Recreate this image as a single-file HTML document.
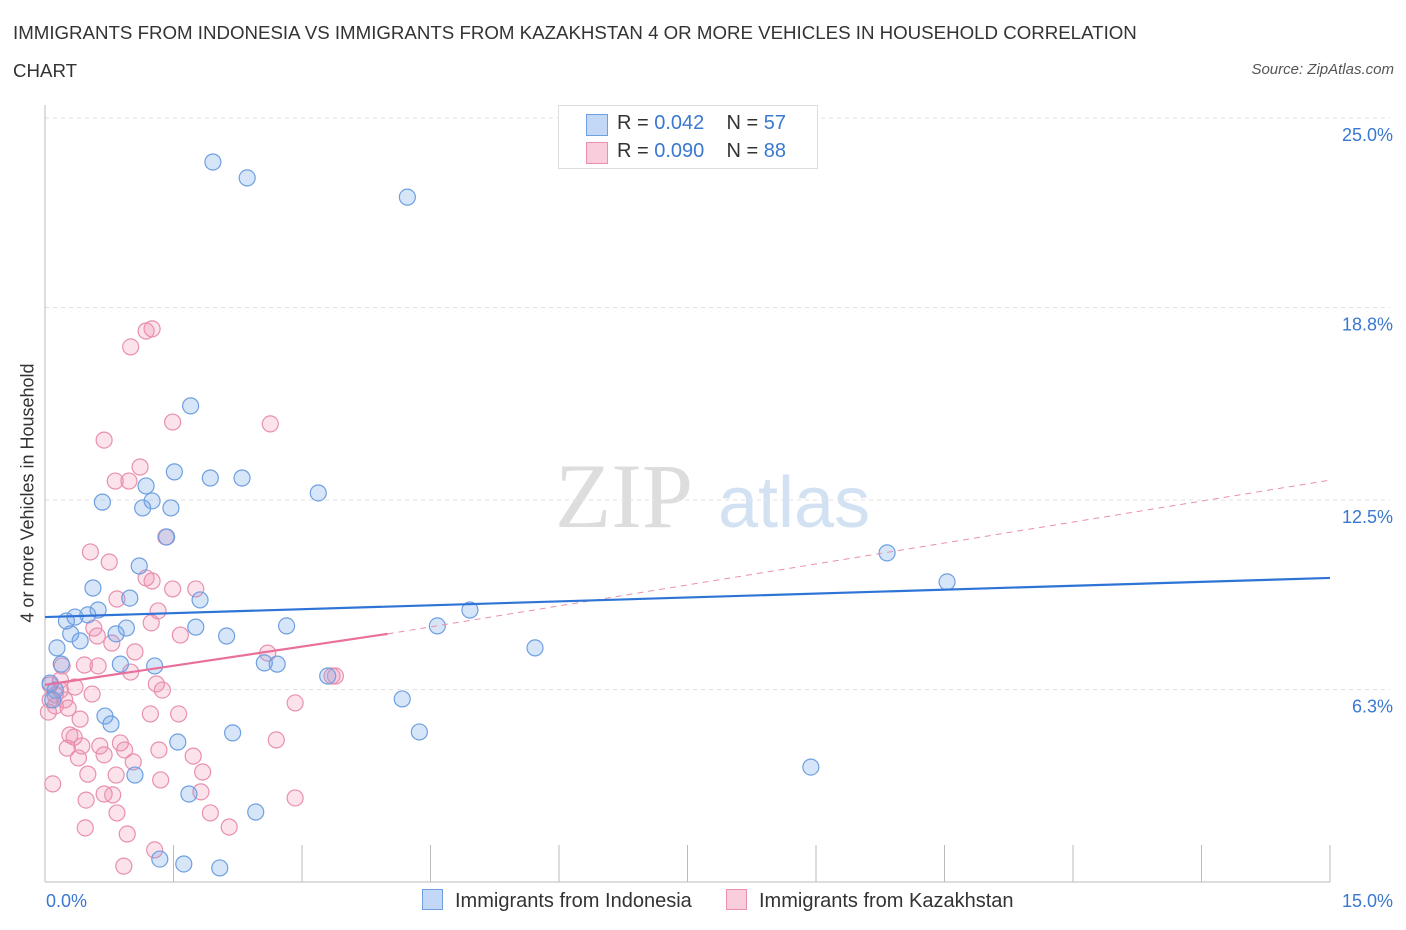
<!DOCTYPE html>
<html><head><meta charset="utf-8"><style>
body{margin:0;background:#fff;font-family:"Liberation Sans",sans-serif;}
#wrap{position:relative;width:1406px;height:930px;overflow:hidden}
.t{position:absolute;white-space:nowrap}
</style></head><body>
<div id="wrap">
<div class="t" style="left:13px;top:14px;font-size:18.7px;color:#333;line-height:38px">IMMIGRANTS FROM INDONESIA VS IMMIGRANTS FROM KAZAKHSTAN 4 OR MORE VEHICLES IN HOUSEHOLD CORRELATION<br>CHART</div>
<div class="t" style="right:12px;top:61px;font-size:15px;color:#555;font-style:italic">Source: ZipAtlas.com</div>
<svg id="svg" width="1406" height="930" style="position:absolute;left:0;top:0"></svg>
</div>
<script>
const xTicks=[1.5,3,4.5,6,7.5,9,10.5,12,13.5,15];
const yTicks=[6.3,12.5,18.8,25];
const yTickLabels=["6.3%","12.5%","18.8%","25.0%"];
const blueX=[1.96,2.36,4.23,1.70,1.51,1.93,2.30,3.19,0.67,1.18,1.25,1.14,1.47,1.42,1.10,0.56,0.99,1.81,0.62,0.50,0.35,0.25,4.96,0.95,1.76,2.82,4.58,0.30,0.83,0.41,2.12,5.72,0.14,0.19,0.88,1.28,2.56,2.71,3.30,9.83,10.53,0.06,0.12,0.09,0.70,0.77,4.17,2.19,4.37,1.55,1.05,8.94,1.68,2.46,1.34,1.62,2.04];
const blueY=[23.56,23.04,22.41,15.58,13.42,13.22,13.22,12.73,12.43,12.96,12.47,12.24,12.24,11.29,10.34,9.62,9.29,9.23,8.90,8.74,8.67,8.54,8.90,8.31,8.34,8.38,8.38,8.12,8.12,7.89,8.05,7.66,7.66,7.13,7.13,7.07,7.17,7.13,6.74,10.77,9.82,6.51,6.28,5.96,5.43,5.17,5.99,4.88,4.91,4.58,3.50,3.76,2.88,2.29,0.75,0.59,0.46];
const pinkX=[1.25,1.18,1.00,0.69,1.49,2.63,1.11,0.82,0.98,1.41,0.53,0.75,1.18,1.25,1.49,1.76,0.84,1.32,1.24,0.57,0.61,0.78,1.58,2.60,1.05,0.46,0.62,0.20,1.00,3.35,3.39,1.30,1.37,0.35,0.18,0.06,0.18,0.55,2.92,0.12,0.27,0.04,1.23,1.56,0.41,0.29,0.34,0.88,0.64,0.43,0.93,1.33,0.26,0.39,0.69,1.03,1.73,2.70,0.50,0.83,1.35,1.84,0.09,0.69,0.79,1.82,0.48,2.92,0.84,1.93,0.47,2.15,0.96,1.28,0.92,0.06,0.12,0.23];
const pinkY=[18.10,18.03,17.51,14.46,15.05,14.99,13.58,13.12,13.12,11.29,10.80,10.47,9.95,9.85,9.59,9.59,9.26,8.87,8.48,8.31,8.05,7.82,8.08,7.49,7.53,7.10,7.07,7.07,6.87,6.74,6.74,6.48,6.28,6.38,6.61,6.45,6.28,6.15,5.86,5.76,5.69,5.56,5.50,5.50,5.33,4.81,4.74,4.55,4.45,4.45,4.32,4.32,4.38,4.06,4.16,3.93,4.12,4.65,3.53,3.50,3.34,3.60,3.21,2.88,2.85,2.95,2.68,2.75,2.26,2.26,1.77,1.80,1.57,1.05,0.52,5.96,6.12,5.96];
const blueLineX=[0,15], blueLineY=[8.67,9.95];
const pinkSolidX=[0,4.0], pinkSolidY=[6.45,8.12];
const pinkDashX=[4.0,15], pinkDashY=[8.12,13.15];
const NS="http://www.w3.org/2000/svg";
const svg=document.getElementById('svg');
const X0=45,X1=1330,Y0=882,YT=118;
function sx(v){return X0+v/15*(X1-X0);}
function sy(v){return Y0-v/25*(Y0-YT);}
function mk(tag,attrs,parent){const e=document.createElementNS(NS,tag);for(const k in attrs)e.setAttribute(k,attrs[k]);(parent||svg).appendChild(e);return e;}
let w=mk('text',{x:555,y:527,'font-family':'Liberation Serif,serif','font-size':92,fill:'#ddd'});w.textContent='ZIP';


let w2=mk('text',{x:718,y:527,'font-family':'Liberation Sans,sans-serif','font-size':72,fill:'#d3e2f3'});w2.textContent='atlas';


yTicks.forEach((v,i)=>{
 const y=sy(v);
 const g=mk('line',{x1:X0,x2:1390,y1:y,y2:y,stroke:'#e2e2e2','stroke-dasharray':'4,4'});
 
 
 const t=mk('text',{x:1393,y:y+23,'text-anchor':'end','font-size':18,fill:'#3a78d0','font-family':'Liberation Sans,sans-serif'});
 t.textContent=yTickLabels[i];
 
 
});
const ax=mk('line',{x1:X0,x2:X0,y1:105,y2:Y0,stroke:'#bbb'});


const bx=mk('line',{x1:X0,x2:X1,y1:Y0,y2:Y0,stroke:'#bbb'});


xTicks.forEach(v=>{
 const tk=mk('line',{x1:sx(v),x2:sx(v),y1:845,y2:Y0,stroke:'#bbb'});
 
 
});
function pts(xs,ys,fill,stroke,name){
 xs.forEach((x,i)=>{
  const c=mk('circle',{cx:sx(x),cy:sy(ys[i]),r:8,fill:fill,stroke:stroke,'stroke-width':1.2});
  
  
 });
}
pts(pinkX,pinkY,'rgba(240,140,175,0.25)','#e890ad','point-kazakhstan');
pts(blueX,blueY,'rgba(110,160,235,0.28)','#6e9fe0','point-indonesia');
function ln(xs,ys,stroke,w,dash,name){
 const l=mk('line',{x1:sx(xs[0]),y1:sy(ys[0]),x2:sx(xs[1]),y2:sy(ys[1]),stroke:stroke,'stroke-width':w});
 if(dash)l.setAttribute('stroke-dasharray',dash);
 
 
}
ln(pinkDashX,pinkDashY,'#e890ad',1,'6,5','trend-kazakhstan-extension');
ln(pinkSolidX,pinkSolidY,'#e8709a',2.2,null,'trend-kazakhstan');
ln(blueLineX,blueLineY,'#2e74d6',2.2,null,'trend-indonesia');
</script>
<div class="t" style="left:28px;top:493px;font-size:18px;color:#333;transform:translate(-50%,-50%) rotate(-90deg)">4 or more Vehicles in Household</div>
<div class="t" style="left:46px;top:891px;font-size:18px;color:#3a78d0">0.0%</div>
<div class="t" style="right:13px;top:891px;font-size:18px;color:#3a78d0">15.0%</div>
<div style="position:absolute;left:558px;top:105px;width:258px;height:62px;border:1px solid #ddd;background:#fff;font-size:20px;color:#333">
 <div style="position:absolute;left:27px;top:8px;width:20px;height:20px;background:#c3d8f6;border:1px solid #6e9fe0"></div>
 <div class="t" style="left:58px;top:6px">R = <span style="color:#3a78d0">0.042</span>&nbsp;&nbsp;&nbsp; N = <span style="color:#3a78d0">57</span></div>
 <div style="position:absolute;left:27px;top:36px;width:20px;height:20px;background:#f9cddb;border:1px solid #e890ad"></div>
 <div class="t" style="left:58px;top:34px">R = <span style="color:#3a78d0">0.090</span>&nbsp;&nbsp;&nbsp; N = <span style="color:#3a78d0">88</span></div>
</div>
<div style="position:absolute;left:422px;top:889px;font-size:20px;color:#333">
 <span style="display:inline-block;width:19px;height:19px;background:#c3d8f6;border:1px solid #6e9fe0;vertical-align:-3px;margin-right:12px"></span>Immigrants from Indonesia</div>
<div style="position:absolute;left:726px;top:889px;font-size:20px;color:#333">
 <span style="display:inline-block;width:19px;height:19px;background:#f9cddb;border:1px solid #e890ad;vertical-align:-3px;margin-right:12px"></span>Immigrants from Kazakhstan</div>
</body></html>
